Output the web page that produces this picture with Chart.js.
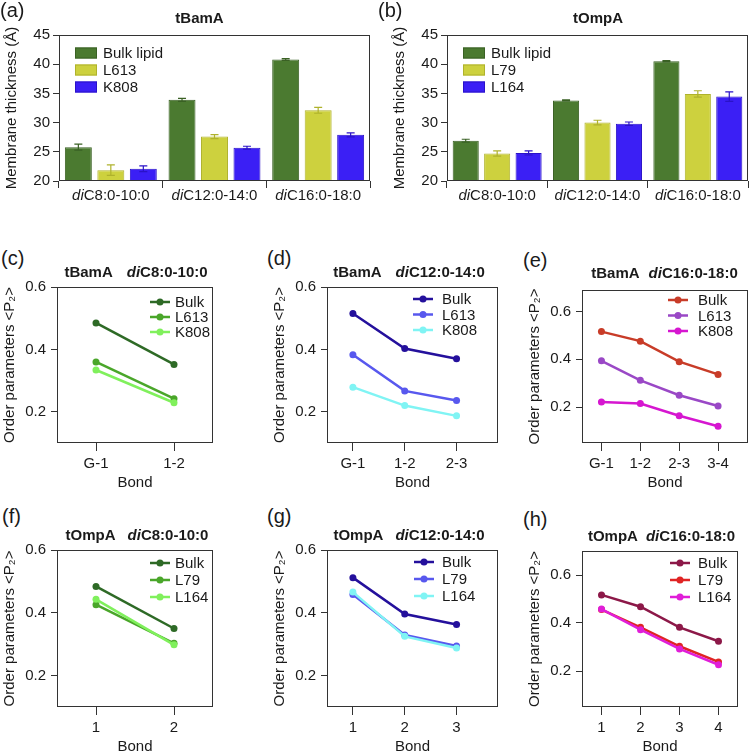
<!DOCTYPE html>
<html>
<head>
<meta charset="utf-8">
<script src="https://cdn.jsdelivr.net/npm/chart.js@4.4.0/dist/chart.umd.min.js"></script>
<style>
body { margin: 0; background: #fff; width: 754px; height: 753px; position: relative; overflow: hidden;
       font-family: "Liberation Sans", Arial, sans-serif; color: #1a1a1a; }
canvas { position: absolute; }
.lbl { position: absolute; font-size: 20px; line-height: 20px; }
.ttl { position: absolute; font-size: 15px; line-height: 15px; font-weight: bold; white-space: nowrap; transform: translateX(-50%); }
</style>
</head>
<body>
<script>
// membrane thickness (A), panels a/b
var lipidGroups = ['diC8:0-10:0', 'diC12:0-14:0', 'diC16:0-18:0'];
var bamaBulk = [25.8, 33.9, 40.8];
var bamaBulkErr = [0.5, 0.25, 0.15];
var bamaL613 = [21.85, 27.6, 32.1];
var bamaL613Err = [0.9, 0.35, 0.5];
var bamaK808 = [22.1, 25.7, 27.9];
var bamaK808Err = [0.5, 0.25, 0.35];
var ompaBulk = [26.9, 33.8, 40.5];
var ompaBulkErr = [0.25, 0.1, 0.1];
var ompaL79 = [24.7, 30.0, 34.9];
var ompaL79Err = [0.45, 0.4, 0.55];
var ompaL164 = [24.8, 29.8, 34.45];
var ompaL164Err = [0.35, 0.3, 0.8];

// order parameters <P2>, panels c-h
var bondsBamA8 = ['G-1', '1-2'];
var bondsBamA12 = ['G-1', '1-2', '2-3'];
var bondsBamA16 = ['G-1', '1-2', '2-3', '3-4'];
var bondsOmpA8 = ['1', '2'];
var bondsOmpA12 = ['1', '2', '3'];
var bondsOmpA16 = ['1', '2', '3', '4'];

var p2BamA8Bulk = [0.485, 0.352];
var p2BamA8L613 = [0.360, 0.242];
var p2BamA8K808 = [0.334, 0.229];
var p2BamA12Bulk = [0.515, 0.403, 0.370];
var p2BamA12L613 = [0.383, 0.267, 0.236];
var p2BamA12K808 = [0.279, 0.220, 0.187];
var p2BamA16Bulk = [0.516, 0.476, 0.390, 0.337];
var p2BamA16L613 = [0.394, 0.312, 0.250, 0.205];
var p2BamA16K808 = [0.221, 0.215, 0.164, 0.120];
var p2OmpA8Bulk = [0.484, 0.350];
var p2OmpA8L79 = [0.426, 0.303];
var p2OmpA8L164 = [0.443, 0.298];
var p2OmpA12Bulk = [0.512, 0.396, 0.363];
var p2OmpA12L79 = [0.458, 0.329, 0.294];
var p2OmpA12L164 = [0.466, 0.325, 0.288];
var p2OmpA16Bulk = [0.517, 0.468, 0.382, 0.324];
var p2OmpA16L79 = [0.456, 0.382, 0.303, 0.238];
var p2OmpA16L164 = [0.458, 0.372, 0.292, 0.226];

var FONT = '"Liberation Sans", Arial, sans-serif';
Chart.defaults.font.family = FONT;
Chart.defaults.font.size = 15;
Chart.defaults.color = '#1a1a1a';
Chart.defaults.animation = false;
Chart.defaults.plugins.legend.display = false;
Chart.defaults.plugins.tooltip.enabled = false;

var frame = {
	id: 'frame',
	afterDraw: function (chart)
	{
		var a = chart.chartArea, ctx = chart.ctx;
		ctx.save();
		ctx.strokeStyle = '#333';
		ctx.lineWidth = 1;
		ctx.strokeRect(Math.round(a.left) + 0.5, Math.round(a.top) + 0.5,
			Math.round(a.right - a.left) - 1, Math.round(a.bottom - a.top) - 1);
		ctx.restore();
	}
};

var errorBars = {
	id: 'errorBars',
	afterDatasetsDraw: function (chart)
	{
		var ctx = chart.ctx, y = chart.scales.y;
		chart.data.datasets.forEach(function (ds, i)
		{
			chart.getDatasetMeta(i).data.forEach(function (bar, j)
			{
				var top = y.getPixelForValue(ds.data[j] + ds.errors[j]);
				var bot = y.getPixelForValue(ds.data[j] - ds.errors[j]);
				ctx.save();
				ctx.strokeStyle = ds.borderColor;
				ctx.lineWidth = 1.2;
				ctx.beginPath();
				ctx.moveTo(bar.x, top); ctx.lineTo(bar.x, bot);
				ctx.moveTo(bar.x - 4, top); ctx.lineTo(bar.x + 4, top);
				ctx.moveTo(bar.x - 4, bot); ctx.lineTo(bar.x + 4, bot);
				ctx.stroke();
				ctx.restore();
			});
		});
	}
};

// group labels with an italic "di" prefix
var italicPrefix = {
	id: 'italicPrefix',
	afterDraw: function (chart)
	{
		var x = chart.scales.x, ctx = chart.ctx, yy = chart.chartArea.bottom + 18.5;
		chart.data.labels.forEach(function (lab, i)
		{
			var pre = lab.slice(0, 2), rest = lab.slice(2);
			ctx.save();
			ctx.font = 'italic 15px ' + FONT;
			var w1 = ctx.measureText(pre).width;
			ctx.font = '15px ' + FONT;
			var w2 = ctx.measureText(rest).width;
			var x0 = x.getPixelForValue(i) - (w1 + w2) / 2;
			ctx.fillStyle = '#1a1a1a';
			ctx.textAlign = 'left';
			ctx.textBaseline = 'alphabetic';
			ctx.font = 'italic 15px ' + FONT;
			ctx.fillText(pre, x0, yy);
			ctx.font = '15px ' + FONT;
			ctx.fillText(rest, x0 + w1, yy);
			ctx.restore();
		});
	}
};

var inLegend = {
	id: 'inLegend',
	afterDraw: function (chart, args, o)
	{
		var ctx = chart.ctx, a = chart.chartArea;
		chart.data.datasets.forEach(function (ds, i)
		{
			var y = a.top + o.y + i * o.dy, x = a.left + o.x;
			ctx.save();
			if (o.kind === 'bar')
			{
				ctx.fillStyle = ds.backgroundColor;
				ctx.fillRect(x, y - 5.5, 22, 11);
				ctx.strokeStyle = ds.borderColor;
				ctx.lineWidth = 1;
				ctx.strokeRect(x + 0.5, y - 5, 21, 10);
			}
			else
			{
				ctx.strokeStyle = ds.borderColor;
				ctx.lineWidth = 2.5;
				ctx.beginPath(); ctx.moveTo(x, y); ctx.lineTo(x + 20, y); ctx.stroke();
				ctx.fillStyle = ds.borderColor;
				ctx.beginPath(); ctx.arc(x + 10, y, 3.5, 0, Math.PI * 2); ctx.fill();
			}
			ctx.fillStyle = '#1a1a1a';
			ctx.font = '15px ' + FONT;
			ctx.textAlign = 'left';
			ctx.textBaseline = 'middle';
			ctx.fillText(ds.label, x + o.tx, y + 1);
			ctx.restore();
		});
	}
};

function makeCanvas(box, yw, xh)
{
	var c = document.createElement('canvas');
	var left = box.l - yw, top = box.t - 15;
	var w = box.r - left + 4, h = box.b - top + xh;
	c.width = w; c.height = h;
	c.style.left = left + 'px'; c.style.top = top + 'px';
	c.style.width = w + 'px'; c.style.height = h + 'px';
	document.body.appendChild(c);
	return c;
}

function panelLabel(text, x, y)
{
	var d = document.body.appendChild(document.createElement('div'));
	d.className = 'lbl';
	d.style.left = x + 'px'; d.style.top = y + 'px';
	d.textContent = text;
}

function panelTitle(cx, top, protein, lipid, gap)
{
	var d = document.body.appendChild(document.createElement('div'));
	d.className = 'ttl';
	d.style.left = cx + 'px'; d.style.top = top + 'px';
	d.appendChild(document.createTextNode(protein));
	if (lipid)
	{
		var s = d.appendChild(document.createElement('span'));
		s.style.marginLeft = gap + 'px';
		s.innerHTML = '<i>di</i>' + lipid.slice(2);
	}
}

function barChart(box, series, errs, names, fills, borders)
{
	new Chart(makeCanvas(box, 57, 25), {
		type: 'bar',
		data: {
			labels: lipidGroups,
			datasets: series.map(function (s, i)
			{
				return { label: names[i], data: s, errors: errs[i], backgroundColor: fills[i],
					borderColor: borders[i], borderWidth: 1, base: 20,
					categoryPercentage: 0.94, barPercentage: 0.83 };
			})
		},
		options: {
			responsive: false,
			layout: { autoPadding: false, padding: { top: 15, right: 4, left: 0, bottom: 0 } },
			scales: {
				x: { ticks: { display: false }, border: { display: false },
					grid: { drawOnChartArea: false, tickLength: 7, color: '#333', tickColor: '#333' },
					afterFit: function (s) { s.height = 25; } },
				y: { min: 20, max: 45, ticks: { stepSize: 5, padding: 3 }, border: { display: false },
					grid: { drawOnChartArea: false, tickLength: 6, color: '#333', tickColor: '#333' },
					title: { display: true, text: 'Membrane thickness (Å)', padding: { top: 1, bottom: 0 } },
					afterFit: function (s) { s.width = 57; } }
			},
			plugins: { inLegend: { kind: 'bar', x: 16, y: 18, dy: 17, tx: 28 } }
		},
		plugins: [frame, errorBars, italicPrefix, inLegend]
	});
}

function lineChart(box, bonds, series, names, colors, xmax, ymin, ymax, legend)
{
	new Chart(makeCanvas(box, 57, 50), {
		type: 'line',
		data: {
			datasets: series.map(function (s, i)
			{
				return { label: names[i], data: s.map(function (v, j) { return { x: j, y: v }; }),
					borderColor: colors[i], backgroundColor: colors[i], borderWidth: 2.5,
					pointRadius: 3.5, pointBorderWidth: 0, order: series.length - i };
			})
		},
		options: {
			responsive: false,
			layout: { autoPadding: false, padding: { top: 15, right: 4, left: 0, bottom: 0 } },
			scales: {
				x: { type: 'linear', min: -0.5, max: xmax, border: { display: false },
					afterBuildTicks: function (s) { s.ticks = bonds.map(function (b, i) { return { value: i }; }); },
					ticks: { callback: function (v) { return bonds[v]; }, padding: 4, autoSkip: false, maxRotation: 0 },
					grid: { drawOnChartArea: false, tickLength: 8, color: '#333', tickColor: '#333' },
					title: { display: true, text: 'Bond', padding: { top: 0, bottom: 1 } },
					afterFit: function (s) { s.height = 50; } },
				y: { min: ymin, max: ymax, border: { display: false },
					afterBuildTicks: function (s) { s.ticks = [0.2, 0.4, 0.6].map(function (v) { return { value: v }; }); },
					ticks: { callback: function (v) { return v.toFixed(1); }, padding: 5 },
					grid: { drawOnChartArea: false, tickLength: 6, color: '#333', tickColor: '#333' },
					title: { display: true, text: 'Order parameters <P₂>', padding: { top: 1, bottom: 0 } },
					afterFit: function (s) { s.width = 57; } }
			},
			plugins: { inLegend: legend }
		},
		plugins: [frame, inLegend]
	});
}

var barFills = ['#4b7a30', '#cdd13e', '#3b1ff5'];
var barBorders = ['#3a6124', '#afb22c', '#2a12c8'];
var greens = ['#2e6a26', '#4aa62a', '#80f05c'];
var blues = ['#24109c', '#5858ee', '#80f4f4'];
var reds = ['#c83c28', '#9a48c6', '#d616d0'];
var maroons = ['#8c1848', '#e02424', '#e01ed8'];
var bamaNames = ['Bulk', 'L613', 'K808'];
var ompaNames = ['Bulk', 'L79', 'L164'];

barChart({ l: 59, t: 35, r: 370, b: 181 }, [bamaBulk, bamaL613, bamaK808],
	[bamaBulkErr, bamaL613Err, bamaK808Err], ['Bulk lipid', 'L613', 'K808'], barFills, barBorders);
barChart({ l: 447, t: 35, r: 748, b: 181 }, [ompaBulk, ompaL79, ompaL164],
	[ompaBulkErr, ompaL79Err, ompaL164Err], ['Bulk lipid', 'L79', 'L164'], barFills, barBorders);

lineChart({ l: 57, t: 287, r: 213, b: 443 }, bondsBamA8, [p2BamA8Bulk, p2BamA8L613, p2BamA8K808],
	bamaNames, greens, 1.5, 0.1, 0.6, { x: 93, y: 15, dy: 15, tx: 25 });
lineChart({ l: 327, t: 287, r: 498, b: 443 }, bondsBamA12, [p2BamA12Bulk, p2BamA12L613, p2BamA12K808],
	bamaNames, blues, 2.8, 0.1, 0.6, { x: 86, y: 12, dy: 15.5, tx: 29 });
lineChart({ l: 582, t: 290, r: 748, b: 443 }, bondsBamA16, [p2BamA16Bulk, p2BamA16L613, p2BamA16K808],
	bamaNames, reds, 3.77, 0.05, 0.69, { x: 86, y: 10, dy: 15.5, tx: 30 });
lineChart({ l: 57, t: 550, r: 213, b: 707 }, bondsOmpA8, [p2OmpA8Bulk, p2OmpA8L79, p2OmpA8L164],
	ompaNames, greens, 1.5, 0.1, 0.6, { x: 93, y: 13, dy: 17, tx: 25 });
lineChart({ l: 327, t: 550, r: 498, b: 707 }, bondsOmpA12, [p2OmpA12Bulk, p2OmpA12L79, p2OmpA12L164],
	ompaNames, blues, 2.8, 0.1, 0.6, { x: 87, y: 12, dy: 17, tx: 28 });
lineChart({ l: 582, t: 551, r: 738, b: 707 }, bondsOmpA16, [p2OmpA16Bulk, p2OmpA16L79, p2OmpA16L164],
	ompaNames, maroons, 3.5, 0.05, 0.7, { x: 88, y: 12, dy: 17, tx: 28 });

panelLabel('(a)', 0, 0);
panelLabel('(b)', 378, 0);
panelLabel('(c)', 1, 248);
panelLabel('(d)', 267, 248);
panelLabel('(e)', 523, 250);
panelLabel('(f)', 2, 506);
panelLabel('(g)', 267, 506);
panelLabel('(h)', 523, 509);

panelTitle(199.5, 10, 'tBamA');
panelTitle(598, 10, 'tOmpA');
panelTitle(136, 264, 'tBamA', lipidGroups[0], 14);
panelTitle(409, 264, 'tBamA', lipidGroups[1], 14);
panelTitle(664.5, 265, 'tBamA', lipidGroups[2], 9);
panelTitle(137, 527, 'tOmpA', lipidGroups[0], 12);
panelTitle(409, 527, 'tOmpA', lipidGroups[1], 12);
panelTitle(661.5, 528, 'tOmpA', lipidGroups[2], 8);
</script>
</body>
</html>
